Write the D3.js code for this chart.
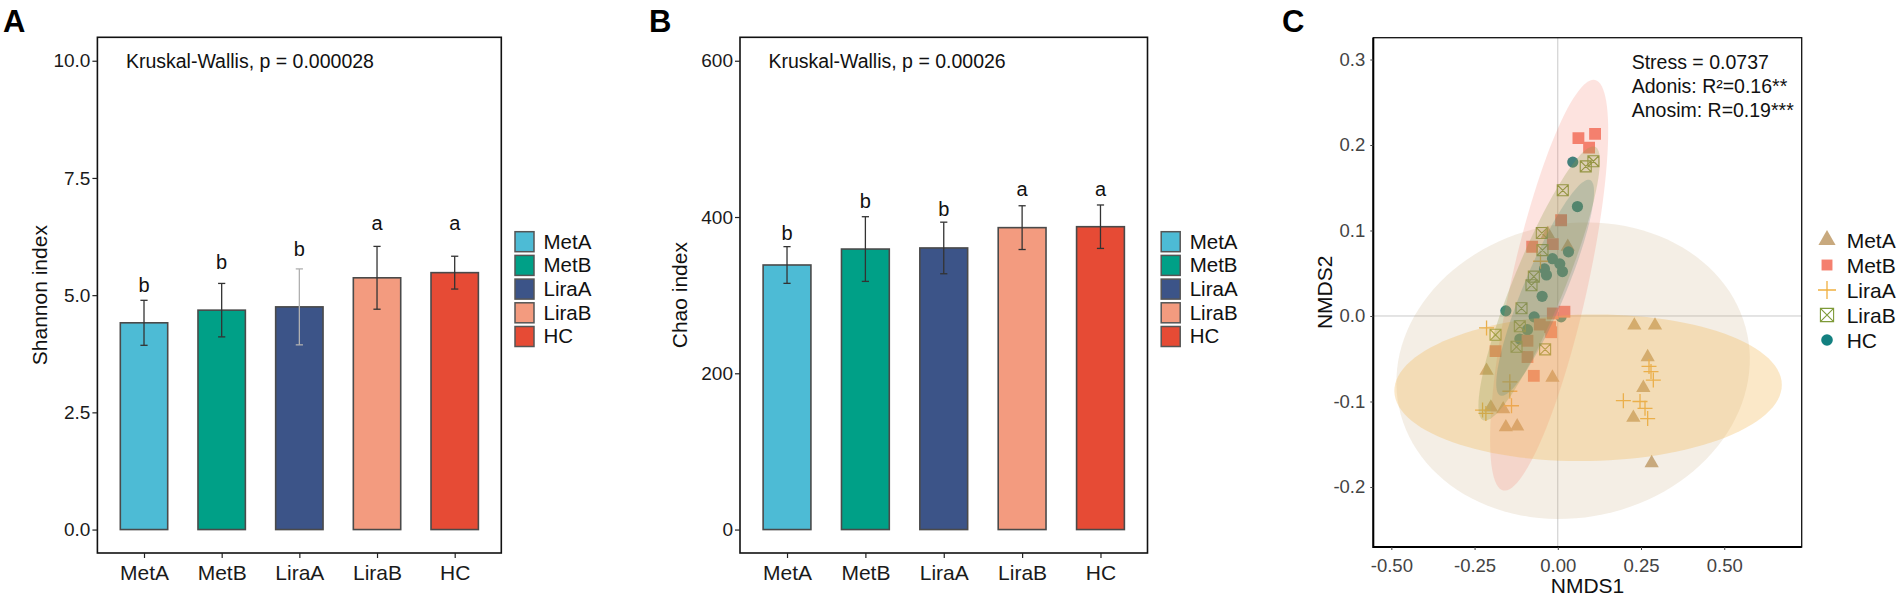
<!DOCTYPE html>
<html><head><meta charset="utf-8">
<script src="https://cdn.jsdelivr.net/npm/d3@7"></script>
<style>
body{margin:0;background:#fff}
svg{display:block}
text{font-family:"Liberation Sans",Arial,Helvetica,sans-serif}
</style>
</head><body>
<svg id="chart" width="1904" height="596"></svg>
<script>
// ---------------- DATA ----------------
const groups = ["MetA","MetB","LiraA","LiraB","HC"];

const shannonMean = [4.41, 4.68, 4.75, 5.37, 5.48];
const shannonSD   = [0.48, 0.57, 0.81, 0.67, 0.35];
const shannonLetters = ["b","b","b","a","a"];
const shannonLetterAt = [5.07, 5.56, 5.83, 6.39, 6.39];
const shannonTicks = [0, 2.5, 5, 7.5, 10];

const chaoMean = [338.6, 359, 360.4, 386.4, 387.6];
const chaoSD   = [23.5, 41.4, 33, 28, 27.8];
const chaoLetters = ["b","b","b","a","a"];
const chaoLetterAt = [370.6, 411, 401.3, 427, 427];
const chaoTicks = [0, 200, 400, 600];

const nmdsXTicks = [-0.5, -0.25, 0, 0.25, 0.5];
const nmdsYTicks = [-0.2, -0.1, 0, 0.1, 0.2, 0.3];

const nmdsMetA = [[-0.030,0.096],[0.030,0.081],[0.230,-0.011],[0.292,-0.011],[0.270,-0.048],[0.257,-0.084],[0.227,-0.119],[0.282,-0.172],[-0.214,-0.064],[-0.201,-0.107],[-0.164,-0.109],[-0.156,-0.130],[-0.122,-0.129],[-0.016,-0.072]];
const nmdsMetB = [[0.062,0.208],[0.112,0.213],[0.094,0.197],[0.010,0.112],[-0.077,0.081],[-0.015,0.084],[-0.015,0.003],[0.020,0.005],[-0.054,-0.010],[-0.023,-0.013],[-0.020,-0.019],[-0.091,-0.029],[-0.187,-0.041],[-0.091,-0.048],[-0.072,-0.070]];
const nmdsLiraA = [[-0.214,-0.014],[-0.052,0.064],[-0.144,-0.077],[-0.144,-0.088],[-0.139,-0.105],[-0.226,-0.110],[-0.216,-0.114],[0.274,-0.059],[0.280,-0.065],[0.287,-0.075],[0.197,-0.099],[0.247,-0.100],[0.262,-0.108],[0.270,-0.120]];
const nmdsLiraB = [[0.107,0.181],[0.084,0.175],[0.015,0.147],[-0.048,0.097],[-0.046,0.077],[-0.072,0.046],[-0.079,0.036],[-0.109,0.009],[-0.114,-0.012],[-0.187,-0.022],[-0.124,-0.036],[-0.038,-0.039]];
const nmdsHC = [[0.045,0.180],[0.059,0.128],[-0.156,0.006],[-0.016,0.067],[0.006,0.061],[0.014,0.052],[-0.040,0.055],[-0.034,0.048],[-0.047,0.023],[0.032,0.075],[-0.071,-0.001],[-0.091,-0.016],[-0.114,-0.027],[0.010,-0.001]];

// confidence ellipses: centre, tip of major semi-axis, minor/major ratio
const ellipseCenter = [[0.046,-0.064],[-0.026,0.036],[0.091,-0.084],[-0.056,0.038],[-0.038,0.033]];
const ellipseTip    = [[0.569,-0.021],[0.112,0.276],[0.673,-0.080],[0.112,0.198],[0.097,0.159]];
const ellipseRatio  = [0.825, 0.181, 0.378, 0.173, 0.179];

const nmdsStats = ["Stress = 0.0737", "Adonis: R\u00B2=0.16**", "Anosim: R=0.19***"];

// ---------------- STYLE ----------------
const barColors = ["#4DBBD5","#00A087","#3C5488","#F39B7F","#E64B35"];
const ptColors  = ["#C8A97E","#F4806F","#F0B040","#7E9A38","#138080"];
const ellColors = ["#C8A97E","#F4806F","#F3B248","#8E9C48","#3E7F70"];
const ellAlpha  = [0.2, 0.22, 0.3, 0.28, 0.22];
const errColorsA = ["#333","#333","#b0b0b0","#333","#333"];
const svg = d3.select("#chart");

// ---------------- BAR PANELS ----------------
function barPanel(opt){
  const g = svg.append("g");
  const x = d3.scalePoint().domain(groups).range([opt.x0, opt.x1]).padding(0.6);
  const step = x.step();
  const bw = step*0.61;
  const y = d3.scaleLinear().domain(opt.domain).range([opt.yb, opt.yt]);
  const data = groups.map((k,i)=>({k, m:opt.mean[i], s:opt.sd[i], l:opt.letters[i], la:opt.letterAt[i], i}));

  g.selectAll("rect.bar").data(data).join("rect")
    .attr("x", d=>x(d.k)-bw/2).attr("width", bw)
    .attr("y", d=>y(d.m)).attr("height", d=>y(0)-y(d.m))
    .attr("fill", d=>barColors[d.i]).attr("stroke","#4a4a4a").attr("stroke-width",1.6);
  const eb = g.selectAll("g.eb").data(data).join("g")
    .attr("stroke", d=>opt.errColors ? opt.errColors[d.i] : "#333").attr("stroke-width",1.3);
  eb.append("line").attr("x1",d=>x(d.k)).attr("x2",d=>x(d.k))
    .attr("y1",d=>y(d.m-d.s)).attr("y2",d=>y(d.m+d.s));
  eb.append("line").attr("x1",d=>x(d.k)-3.6).attr("x2",d=>x(d.k)+3.6)
    .attr("y1",d=>y(d.m+d.s)).attr("y2",d=>y(d.m+d.s));
  eb.append("line").attr("x1",d=>x(d.k)-3.6).attr("x2",d=>x(d.k)+3.6)
    .attr("y1",d=>y(d.m-d.s)).attr("y2",d=>y(d.m-d.s));
  g.selectAll("text.let").data(data).join("text")
    .attr("x", d=>x(d.k)).attr("y", d=>y(d.la))
    .attr("text-anchor","middle").attr("font-size",20).attr("fill","#111")
    .text(d=>d.l);

  g.append("rect").attr("x",opt.x0).attr("y",opt.yt).attr("width",opt.x1-opt.x0).attr("height",opt.yb-opt.yt)
    .attr("fill","none").attr("stroke","#111").attr("stroke-width",1.6);

  const ya = g.append("g").attr("transform",`translate(${opt.x0},0)`)
    .call(d3.axisLeft(y).tickValues(opt.ticks).tickSize(5).tickPadding(2).tickFormat(opt.fmt));
  ya.select(".domain").remove();
  ya.selectAll("line").attr("stroke","#222").attr("stroke-width",1.2);
  ya.selectAll("text").attr("font-size",19).attr("fill","#1a1a1a").attr("font-family",null);
  const xa = g.append("g").attr("transform",`translate(0,${opt.yb})`)
    .call(d3.axisBottom(x).tickSize(5).tickPadding(7));
  xa.select(".domain").remove();
  xa.selectAll("line").attr("stroke","#222").attr("stroke-width",1.2);
  xa.selectAll("text").attr("font-size",21).attr("fill","#1a1a1a").attr("font-family",null);

  g.append("text").attr("transform",`translate(${opt.titleX},${(opt.yt+opt.yb)/2}) rotate(-90)`)
    .attr("text-anchor","middle").attr("font-size",21).attr("fill","#111").text(opt.title);
  g.append("text").attr("x",opt.x0+28.5).attr("y",67.7).attr("font-size",19.5).attr("fill","#111").text(opt.note);
  g.append("text").attr("x",opt.labelX).attr("y",31.7).attr("font-size",31).attr("font-weight","bold").attr("fill","#000").text(opt.label);

  const lg = g.append("g").attr("transform",`translate(${opt.x1+13.7},231.7)`);
  groups.forEach((k,i)=>{
    lg.append("rect").attr("x",0).attr("y",i*23.7).attr("width",19).attr("height",20)
      .attr("fill",barColors[i]).attr("stroke","#555").attr("stroke-width",1.5);
    lg.append("text").attr("x",28.5).attr("y",i*23.7+17).attr("font-size",20.5).attr("fill","#111").text(k);
  });
}

barPanel({x0:97.4, x1:501.3, yt:37.3, yb:553, domain:[-0.5,10.5], mean:shannonMean, sd:shannonSD,
  letters:shannonLetters, letterAt:shannonLetterAt, ticks:shannonTicks, fmt:d=>d.toFixed(1),
  title:"Shannon index", titleX:46.7, note:"Kruskal-Wallis, p = 0.000028", label:"A", labelX:3, errColors:errColorsA});
barPanel({x0:740, x1:1147.5, yt:37.3, yb:553, domain:[-30,630], mean:chaoMean, sd:chaoSD,
  letters:chaoLetters, letterAt:chaoLetterAt, ticks:chaoTicks, fmt:d=>String(d),
  title:"Chao index", titleX:686.7, note:"Kruskal-Wallis, p = 0.00026", label:"B", labelX:649});

// ---------------- NMDS PANEL ----------------
(function(){
  const X0=1373.3, X1=1801.7, YT=37.7, YB=547;
  const x = d3.scaleLinear().domain([-0.5542, 0.7327]).range([X0, X1]);
  const y = d3.scaleLinear().domain([-0.2702, 0.3255]).range([YB, YT]);
  const g = svg.append("g");
  const clipId = "clipC";
  g.append("clipPath").attr("id",clipId).append("rect").attr("x",X0).attr("y",YT).attr("width",X1-X0).attr("height",YB-YT);
  const inner = g.append("g").attr("clip-path",`url(#${clipId})`);

  inner.append("line").attr("x1",x(0)).attr("x2",x(0)).attr("y1",YT).attr("y2",YB).attr("stroke","#c9c9c9").attr("stroke-width",1);
  inner.append("line").attr("x1",X0).attr("x2",X1).attr("y1",y(0)).attr("y2",y(0)).attr("stroke","#c9c9c9").attr("stroke-width",1);

  const sets = [nmdsMetA, nmdsMetB, nmdsLiraA, nmdsLiraB, nmdsHC];
  const drawOrder = [0,4,1,2,3];

  function drawShape(sel, gi, px, py, big){
    const c = ptColors[gi];
    const k = big ? 1.2 : 1;
    if(gi===0){
      sel.append("path").attr("transform",`translate(${px},${py})`)
        .attr("d", d3.symbol(d3.symbolTriangle, 88*k*k)()).attr("fill",c);
    } else if(gi===1){
      sel.append("path").attr("transform",`translate(${px},${py})`)
        .attr("d", d3.symbol(d3.symbolSquare, 140*(big?0.85:1))()).attr("fill",c);
    } else if(gi===2){
      const h=7.5*k;
      sel.append("path").attr("transform",`translate(${px},${py})`)
        .attr("d",`M${-h},0H${h}M0,${-h}V${h}`).attr("stroke",c).attr("stroke-width",1.3).attr("fill","none");
    } else if(gi===3){
      const h=5.5*(big?1.2:1);
      sel.append("path").attr("transform",`translate(${px},${py})`)
        .attr("d",`M${-h},${-h}H${h}V${h}H${-h}ZM${-h},${-h}L${h},${h}M${h},${-h}L${-h},${h}`)
        .attr("stroke",c).attr("stroke-width",1.1).attr("fill","none");
    } else {
      sel.append("circle").attr("cx",px).attr("cy",py).attr("r",big?5.8:5.6).attr("fill",c);
    }
  }

  const pg = inner.append("g");
  drawOrder.forEach(gi=>{
    sets[gi].forEach(p=>drawShape(pg, gi, x(p[0]), y(p[1]), false));
  });

  const line = d3.line().curve(d3.curveLinearClosed);
  groups.forEach((k,i)=>{
    const cx = x(ellipseCenter[i][0]), cy = y(ellipseCenter[i][1]);
    const ux = x(ellipseTip[i][0]) - cx, uy = y(ellipseTip[i][1]) - cy;
    const vx = -uy*ellipseRatio[i], vy = ux*ellipseRatio[i];
    const pts = d3.range(120).map(j=>{
      const t = j/120*2*Math.PI;
      return [cx + Math.cos(t)*ux + Math.sin(t)*vx, cy + Math.cos(t)*uy + Math.sin(t)*vy];
    });
    inner.append("path").attr("d", line(pts)).attr("fill", ellColors[i]).attr("fill-opacity", ellAlpha[i]).attr("stroke","none");
  });

  g.append("rect").attr("x",X0).attr("y",YT).attr("width",X1-X0).attr("height",YB-YT)
    .attr("fill","none").attr("stroke","#111").attr("stroke-width",1.3);
  g.append("path").attr("d",`M${X0},${YT}V${YB}H${X1}`).attr("fill","none").attr("stroke","#000").attr("stroke-width",2);

  const ya = g.append("g").attr("transform",`translate(${X0},0)`)
    .call(d3.axisLeft(y).tickValues(nmdsYTicks).tickSize(3).tickPadding(5).tickFormat(d=>d.toFixed(1)));
  ya.select(".domain").remove();
  ya.selectAll("line").attr("stroke","#444");
  ya.selectAll("text").attr("font-size",18.5).attr("fill","#444").attr("font-family",null);
  const xa = g.append("g").attr("transform",`translate(0,${YB})`)
    .call(d3.axisBottom(x).tickValues(nmdsXTicks).tickSize(3).tickPadding(8.5).tickFormat(d=>d.toFixed(2)));
  xa.select(".domain").remove();
  xa.selectAll("line").attr("stroke","#444");
  xa.selectAll("text").attr("font-size",18.5).attr("fill","#444").attr("font-family",null);

  g.append("text").attr("transform",`translate(1331.7,${(YT+YB)/2}) rotate(-90)`)
    .attr("text-anchor","middle").attr("font-size",21).attr("fill","#111").text("NMDS2");
  g.append("text").attr("x",(X0+X1)/2).attr("y",593).attr("text-anchor","middle").attr("font-size",21).attr("fill","#111").text("NMDS1");

  nmdsStats.forEach((s,i)=>{
    g.append("text").attr("x",1631.7).attr("y",69.3+i*24).attr("font-size",19.5).attr("fill","#111").text(s);
  });

  g.append("text").attr("x",1282).attr("y",31.7).attr("font-size",31).attr("font-weight","bold").attr("fill","#000").text("C");

  const lg = g.append("g");
  groups.forEach((k,i)=>{
    const cy = 240 + i*25;
    drawShape(lg, i, 1827, cy, true);
    lg.append("text").attr("x",1846.7).attr("y",cy+7.5).attr("font-size",21).attr("fill","#111").text(k);
  });
})();
</script>
</body></html>
